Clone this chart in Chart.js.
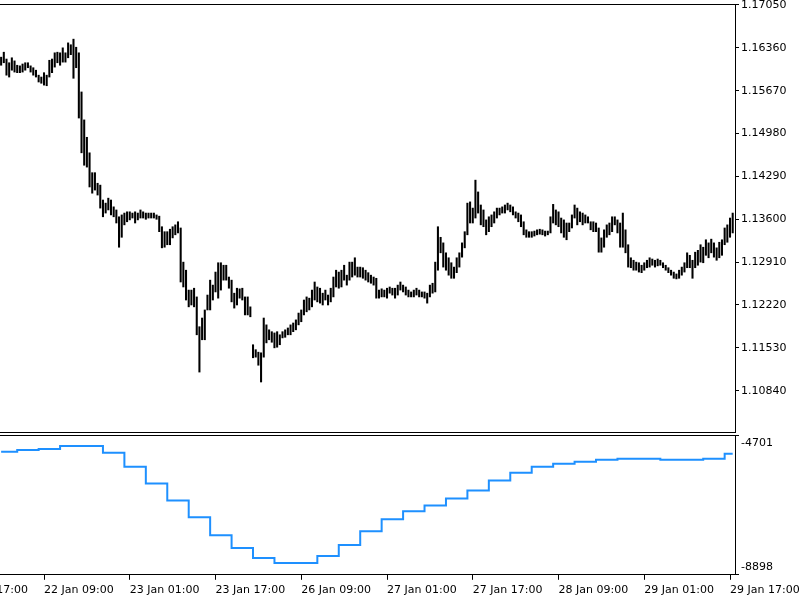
<!DOCTYPE html>
<html>
<head>
<meta charset="utf-8">
<script src="https://cdn.jsdelivr.net/npm/chart.js@4.4.0/dist/chart.umd.min.js"></script>
<style>
  body { margin: 0; background: #fff; overflow: hidden; }
  canvas { display: block; }
</style>
</head>
<body>
<canvas id="priceChart" width="800" height="433"></canvas>
<canvas id="indChart" width="800" height="167"></canvas>
<script>
// Barres M30 : plus haut / plus bas
const highs = [
  1.1621, 1.1629, 1.1618, 1.1612, 1.1620, 1.1615, 1.1608, 1.1607, 1.1610, 1.1612,
  1.1612, 1.1607, 1.1604, 1.1600, 1.1592, 1.1589, 1.1596, 1.1592, 1.1616, 1.1618,
  1.1628, 1.1629, 1.1628, 1.1636, 1.1628, 1.1644, 1.1641, 1.1650, 1.1637, 1.1628,
  1.1565, 1.1520, 1.1492, 1.1467, 1.1435, 1.1435, 1.1418, 1.1415, 1.1391, 1.1386,
  1.1394, 1.1391, 1.1380, 1.1375, 1.1364, 1.1367, 1.1370, 1.1372, 1.1372, 1.1370,
  1.1372, 1.1370, 1.1375, 1.1372, 1.1370, 1.1370, 1.1370, 1.1370, 1.1367, 1.1365,
  1.1348, 1.1340, 1.1340, 1.1344, 1.1348, 1.1351, 1.1356, 1.1346, 1.1291, 1.1278,
  1.1246, 1.1246, 1.1249, 1.1235, 1.1187, 1.1201, 1.1214, 1.1238, 1.1262, 1.1254,
  1.1275, 1.1290, 1.1290, 1.1286, 1.1286, 1.1267, 1.1262, 1.1241, 1.1249, 1.1248,
  1.1249, 1.1235, 1.1235, 1.1219, 1.1158, 1.1150, 1.1146, 1.1145, 1.1201, 1.1190,
  1.1182, 1.1179, 1.1177, 1.1179, 1.1174, 1.1179, 1.1182, 1.1185, 1.1190, 1.1193,
  1.1198, 1.1209, 1.1214, 1.1230, 1.1235, 1.1233, 1.1246, 1.1259, 1.1251, 1.1249,
  1.1241, 1.1246, 1.1238, 1.1249, 1.1267, 1.1278, 1.1275, 1.1278, 1.1286, 1.1270,
  1.1291, 1.1291, 1.1298, 1.1283, 1.1283, 1.1282, 1.1278, 1.1274, 1.1270, 1.1267,
  1.1265, 1.1246, 1.1248, 1.1246, 1.1249, 1.1251, 1.1249, 1.1249, 1.1254, 1.1259,
  1.1254, 1.1251, 1.1246, 1.1243, 1.1246, 1.1249, 1.1246, 1.1243, 1.1243, 1.1241,
  1.1254, 1.1257, 1.1291, 1.1348, 1.1331, 1.1322, 1.1306, 1.1298, 1.1290, 1.1283,
  1.1298, 1.1306, 1.1322, 1.1340, 1.1386, 1.1388, 1.1378, 1.1423, 1.1404, 1.1383,
  1.1375, 1.1359, 1.1364, 1.1367, 1.1372, 1.1378, 1.1378, 1.1380, 1.1383, 1.1386,
  1.1383, 1.1380, 1.1372, 1.1370, 1.1367, 1.1356, 1.1343, 1.1340, 1.1340, 1.1341,
  1.1343, 1.1344, 1.1343, 1.1341, 1.1341, 1.1364, 1.1384, 1.1375, 1.1372, 1.1362,
  1.1359, 1.1354, 1.1354, 1.1367, 1.1383, 1.1378, 1.1372, 1.1370, 1.1367, 1.1364,
  1.1356, 1.1356, 1.1354, 1.1346, 1.1330, 1.1343, 1.1351, 1.1354, 1.1364, 1.1364,
  1.1359, 1.1354, 1.1370, 1.1343, 1.1319, 1.1298, 1.1294, 1.1291, 1.1290, 1.1286,
  1.1290, 1.1294, 1.1298, 1.1296, 1.1294, 1.1296, 1.1294, 1.1290, 1.1286, 1.1282,
  1.1278, 1.1275, 1.1272, 1.1278, 1.1283, 1.1290, 1.1306, 1.1302, 1.1294, 1.1307,
  1.1310, 1.1319, 1.1315, 1.1327, 1.1322, 1.1328, 1.1322, 1.1314, 1.1323, 1.1327,
  1.1346, 1.1351, 1.1362, 1.1370
];
const lows = [
  1.1608, 1.1612, 1.1592, 1.1589, 1.1600, 1.1597, 1.1596, 1.1596, 1.1597, 1.1600,
  1.1604, 1.1597, 1.1592, 1.1589, 1.1581, 1.1579, 1.1576, 1.1575, 1.1589, 1.1596,
  1.1605, 1.1612, 1.1608, 1.1613, 1.1613, 1.1620, 1.1625, 1.1587, 1.1604, 1.1523,
  1.1467, 1.1447, 1.1444, 1.1412, 1.1402, 1.1407, 1.1399, 1.1378, 1.1364, 1.1370,
  1.1375, 1.1367, 1.1364, 1.1354, 1.1315, 1.1331, 1.1351, 1.1356, 1.1359, 1.1362,
  1.1354, 1.1359, 1.1362, 1.1362, 1.1360, 1.1362, 1.1362, 1.1362, 1.1360, 1.1340,
  1.1314, 1.1315, 1.1319, 1.1319, 1.1330, 1.1335, 1.1338, 1.1259, 1.1251, 1.1230,
  1.1219, 1.1222, 1.1219, 1.1174, 1.1114, 1.1166, 1.1166, 1.1214, 1.1214, 1.1230,
  1.1243, 1.1233, 1.1246, 1.1262, 1.1262, 1.1249, 1.1227, 1.1217, 1.1222, 1.1233,
  1.1230, 1.1206, 1.1206, 1.1203, 1.1137, 1.1138, 1.1125, 1.1098, 1.1138, 1.1161,
  1.1166, 1.1162, 1.1153, 1.1154, 1.1158, 1.1169, 1.1170, 1.1174, 1.1174, 1.1179,
  1.1182, 1.1190, 1.1195, 1.1206, 1.1211, 1.1214, 1.1219, 1.1230, 1.1227, 1.1225,
  1.1222, 1.1230, 1.1222, 1.1227, 1.1235, 1.1251, 1.1249, 1.1251, 1.1262, 1.1254,
  1.1262, 1.1267, 1.1270, 1.1267, 1.1267, 1.1265, 1.1262, 1.1259, 1.1257, 1.1254,
  1.1233, 1.1233, 1.1235, 1.1235, 1.1233, 1.1241, 1.1238, 1.1233, 1.1238, 1.1246,
  1.1243, 1.1238, 1.1235, 1.1235, 1.1235, 1.1238, 1.1235, 1.1235, 1.1233, 1.1225,
  1.1235, 1.1241, 1.1243, 1.1278, 1.1306, 1.1283, 1.1278, 1.1270, 1.1265, 1.1265,
  1.1274, 1.1283, 1.1299, 1.1314, 1.1335, 1.1354, 1.1354, 1.1362, 1.1370, 1.1351,
  1.1348, 1.1335, 1.1340, 1.1348, 1.1354, 1.1362, 1.1367, 1.1370, 1.1370, 1.1375,
  1.1372, 1.1367, 1.1362, 1.1356, 1.1348, 1.1335, 1.1331, 1.1331, 1.1331, 1.1333,
  1.1335, 1.1336, 1.1335, 1.1333, 1.1335, 1.1338, 1.1354, 1.1351, 1.1348, 1.1338,
  1.1331, 1.1327, 1.1340, 1.1346, 1.1362, 1.1351, 1.1356, 1.1351, 1.1354, 1.1354,
  1.1343, 1.1340, 1.1340, 1.1307, 1.1307, 1.1315, 1.1331, 1.1335, 1.1340, 1.1351,
  1.1338, 1.1315, 1.1315, 1.1306, 1.1283, 1.1282, 1.1278, 1.1278, 1.1275, 1.1274,
  1.1278, 1.1282, 1.1283, 1.1286, 1.1283, 1.1285, 1.1286, 1.1282, 1.1278, 1.1274,
  1.1270, 1.1265, 1.1264, 1.1265, 1.1270, 1.1275, 1.1282, 1.1282, 1.1265, 1.1282,
  1.1286, 1.1291, 1.1290, 1.1302, 1.1298, 1.1306, 1.1299, 1.1294, 1.1298, 1.1302,
  1.1319, 1.1323, 1.1331, 1.1338
];

// Graduations de l'axe des prix
const priceTicks = [1.17050, 1.16360, 1.15670, 1.14980, 1.14290, 1.13600, 1.12910, 1.12220, 1.11530, 1.10840];

// Repères de temps (index de barre) et leurs libellés
const timeTickIdx = [-16, 16, 48, 80, 112, 144, 176, 208, 240, 272];
const timeLabels = ['21 Jan 17:00', '22 Jan 09:00', '23 Jan 01:00', '23 Jan 17:00', '26 Jan 09:00',
                    '27 Jan 01:00', '27 Jan 17:00', '28 Jan 09:00', '29 Jan 01:00', '29 Jan 17:00'];

// Indicateur en escalier : début de chaque palier et sa valeur
const stepStart = [0, 6, 14, 22, 38, 46, 54, 62, 70, 78, 86, 94, 102, 118, 126, 134,
                   142, 150, 158, 166, 174, 182, 190, 198, 206, 214, 222, 230, 246, 262, 270, 273];
const stepValue = [-5207, -5148, -5118, -5028, -5237, -5654, -6160, -6666, -7172, -7708, -8095, -8392, -8541, -8333, -8005, -7589,
                   -7231, -6993, -6815, -6606, -6368, -6070, -5832, -5654, -5564, -5505, -5445, -5415, -5445, -5415, -5267, -5267];
const indTicks = [-4701, -8898];

const xMin = -0.42, xMax = 273.86;
const font = { family: 'DejaVu Sans', size: 11 };

Chart.defaults.animation = false;
Chart.defaults.color = '#000';

// axe sans graduation, juste pour tracer le bord du panneau
function edgeAxis(position) {
    return {
        type: 'linear', position: position, min: xMin, max: xMax, offset: false,
        ticks: { display: false },
        grid: { display: false, drawTicks: false },
        border: { display: true, color: '#000', width: 1 }
    };
}

const noPlugins = { legend: { display: false }, tooltip: { enabled: false } };

// Panneau des prix
new Chart(document.getElementById('priceChart'), {
    type: 'bar',
    data: {
        datasets: [{
            data: highs.map((h, i) => ({ x: i, y: [lows[i], h] })),
            backgroundColor: '#000',
            borderWidth: 0,
            barThickness: 1.4
        }]
    },
    options: {
        responsive: false,
        layout: { padding: { top: 4, bottom: 1, left: 0, right: 0 } },
        plugins: noPlugins,
        scales: {
            x: edgeAxis('bottom'),
            xTop: edgeAxis('top'),
            y: {
                type: 'linear', position: 'right', min: 1.10175, max: 1.17066,
                afterBuildTicks: s => { s.ticks = priceTicks.map(v => ({ value: v })); },
                afterFit: s => { s.width = 65; s.paddingTop = 0; s.paddingBottom = 0; },
                ticks: { callback: v => v.toFixed(5), padding: 2, font: font },
                grid: { drawOnChartArea: false, tickLength: 4, color: '#000' },
                border: { display: true, color: '#000' }
            }
        }
    }
});

// Panneau de l'indicateur
new Chart(document.getElementById('indChart'), {
    type: 'line',
    data: {
        datasets: [{
            data: stepStart.map((x, i) => ({ x: x, y: stepValue[i] })),
            borderColor: '#1e90ff',
            borderWidth: 2,
            pointRadius: 0,
            stepped: true,
            fill: false
        }]
    },
    options: {
        responsive: false,
        layout: { padding: { top: 2, bottom: -1, left: 0, right: 0 } },
        plugins: noPlugins,
        scales: {
            x: {
                type: 'linear', position: 'bottom', min: xMin, max: xMax,
                afterBuildTicks: s => { s.ticks = timeTickIdx.map(v => ({ value: v })); },
                afterFit: s => { s.paddingLeft = 0; s.paddingRight = 0; },
                ticks: {
                    callback: (v, i) => timeLabels[i],
                    align: 'start', maxRotation: 0, autoSkip: false, padding: 4, font: font
                },
                grid: { drawOnChartArea: false, tickLength: 5, color: '#000' },
                border: { display: true, color: '#000' }
            },
            xTop: edgeAxis('top'),
            y: {
                type: 'linear', position: 'right', min: -8898, max: -4701,
                afterBuildTicks: s => { s.ticks = indTicks.map(v => ({ value: v })); },
                afterFit: s => { s.width = 65; s.paddingTop = 0; s.paddingBottom = 0; },
                ticks: {
                    // le libellé est décalé vers l'intérieur du panneau
                    callback: (v, i) => i === 0 ? ['', String(v)] : [String(v), ''],
                    padding: 2, font: { family: 'DejaVu Sans', size: 11, lineHeight: 1.4 }
                },
                grid: { drawOnChartArea: false, tickLength: 4, color: '#000' },
                border: { display: true, color: '#000' }
            }
        }
    }
});
</script>
</body>
</html>
